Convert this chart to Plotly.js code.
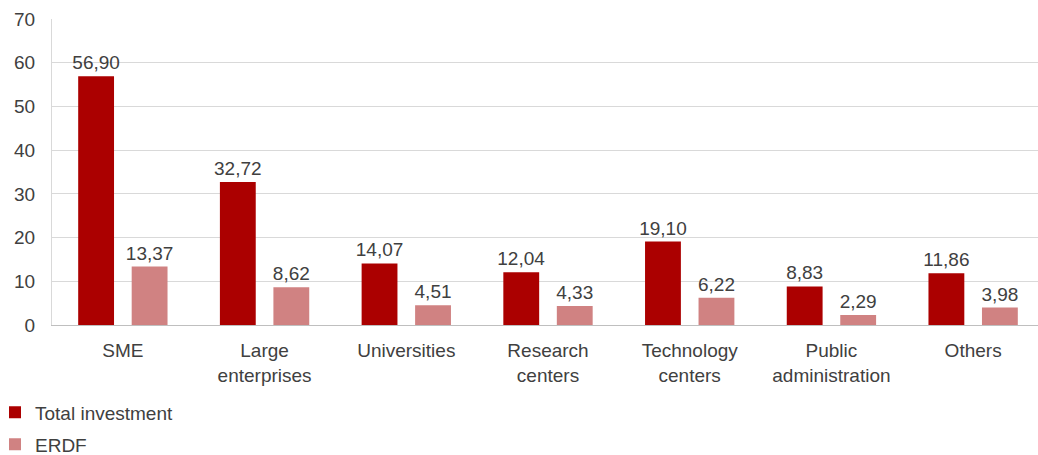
<!DOCTYPE html>
<html>
<head>
<meta charset="utf-8">
<script src="https://cdn.plot.ly/plotly-3.0.1.min.js"></script>
<style>html,body{margin:0;padding:0;overflow:hidden;background:#fff}</style>
</head>
<body>
<div id="chart"></div>
<script>
const categories = ["SME", "Large<br>enterprises", "Universities", "Research<br>centers", "Technology<br>centers", "Public<br>administration", "Others"];
const totalInvestment = [56.90, 32.72, 14.07, 12.04, 19.10, 8.83, 11.86];
const erdf = [13.37, 8.62, 4.51, 4.33, 6.22, 2.29, 3.98];
const seriesNames = ["Total investment", "ERDF"];

const FONT = "Liberation Sans, Arial, sans-serif";
const TXT = "#404040";
const FS = 19;

const traces = [
  {
    type: "bar", x: categories, y: totalInvestment, name: seriesNames[0],
    marker: {color: "#AB0000"},
    texttemplate: "%{y:.2f}", textposition: "outside", cliponaxis: false,
    constraintext: "none",
    textfont: {family: FONT, size: FS, color: TXT},
    hoverinfo: "none", legend: "legend"
  },
  {
    type: "bar", x: categories, y: erdf, name: seriesNames[1],
    marker: {color: "#D08282"},
    texttemplate: "%{y:.2f}", textposition: "outside", cliponaxis: false,
    constraintext: "none",
    textfont: {family: FONT, size: FS, color: TXT},
    hoverinfo: "none", legend: "legend2"
  }
];

const plotW = 1044 - 52;
const plotH = 455 - 19 - 129.5;
const legendLeftPx = -5;

const layout = {
  width: 1044, height: 455,
  margin: {l: 52, r: 0, t: 19, b: 129.5, autoexpand: false},
  paper_bgcolor: "#fff", plot_bgcolor: "#fff",
  font: {family: FONT, size: FS, color: TXT},
  separators: ",.",
  barmode: "group",
  bargap: 0.245,
  bargroupgap: 0.33,
  xaxis: {
    type: "category",
    showline: true, linecolor: "#bfbfbf", linewidth: 1,
    ticks: "", showgrid: false, zeroline: false,
    tickfont: {family: FONT, size: FS, color: TXT},
    ticklabelstandoff: 8
  },
  yaxis: {
    range: [0, 70], dtick: 10, tick0: 0,
    showline: true, linecolor: "#d9d9d9", linewidth: 1,
    showgrid: true, gridcolor: "#d9d9d9", gridwidth: 1,
    zeroline: false, ticks: "",
    tickfont: {family: FONT, size: FS, color: TXT},
    ticklabelstandoff: 12
  },
  showlegend: true,
  legend: {
    x: (legendLeftPx - 52) / plotW, xanchor: "left",
    y: (325.5 - 413) / plotH, yanchor: "middle",
    font: {family: FONT, size: FS, color: TXT},
    bgcolor: "rgba(0,0,0,0)", borderwidth: 0
  },
  legend2: {
    x: (legendLeftPx - 52) / plotW, xanchor: "left",
    y: (325.5 - 445) / plotH, yanchor: "middle",
    font: {family: FONT, size: FS, color: TXT},
    bgcolor: "rgba(0,0,0,0)", borderwidth: 0
  }
};

Plotly.newPlot("chart", traces, layout, {staticPlot: true, displayModeBar: false});
</script>
</body>
</html>
